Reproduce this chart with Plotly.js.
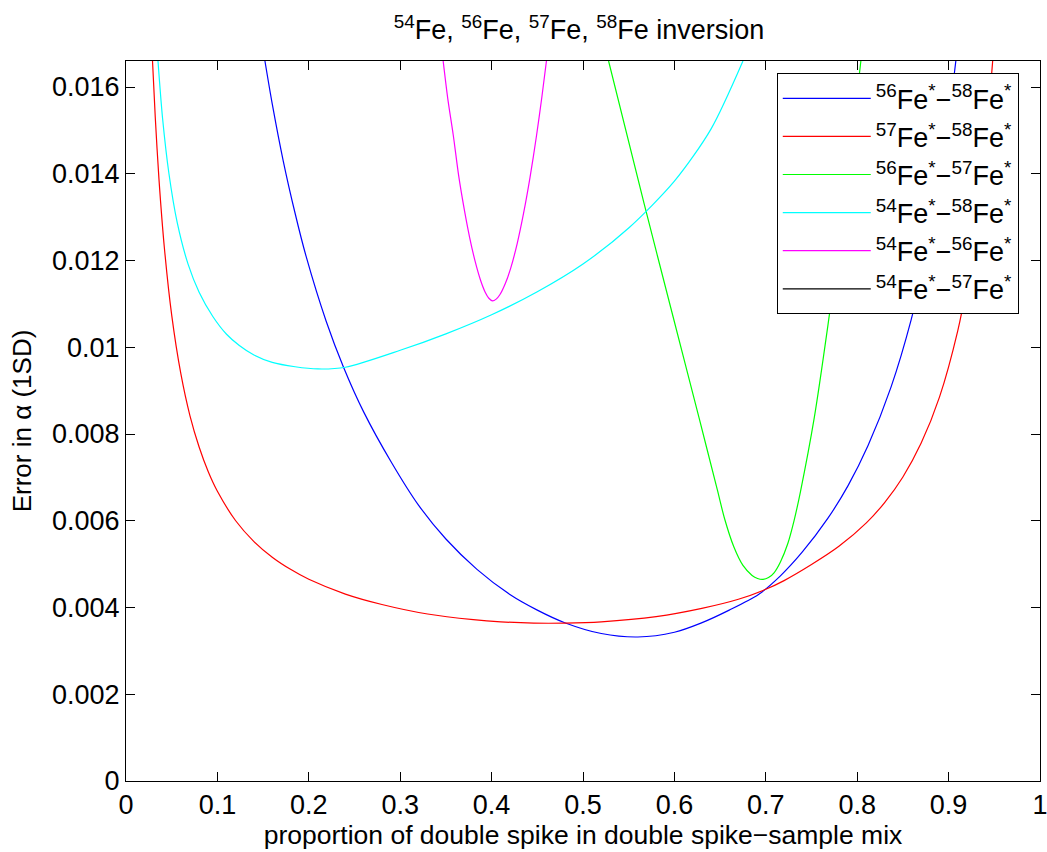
<!DOCTYPE html>
<html>
<head>
<meta charset="utf-8">
<script src="https://cdn.plot.ly/plotly-3.0.1.min.js"></script>
<style>html,body{margin:0;padding:0;background:#fff;}#chart{width:1047px;height:852px;}</style>
</head>
<body>
<div id="chart"></div>
<script>
// Series names
const names = [
  "<sup>56</sup>Fe<sup>*</sup>\u2212<sup>58</sup>Fe<sup>*</sup>",
  "<sup>57</sup>Fe<sup>*</sup>\u2212<sup>58</sup>Fe<sup>*</sup>",
  "<sup>56</sup>Fe<sup>*</sup>\u2212<sup>57</sup>Fe<sup>*</sup>",
  "<sup>54</sup>Fe<sup>*</sup>\u2212<sup>58</sup>Fe<sup>*</sup>",
  "<sup>54</sup>Fe<sup>*</sup>\u2212<sup>56</sup>Fe<sup>*</sup>",
  "<sup>54</sup>Fe<sup>*</sup>\u2212<sup>57</sup>Fe<sup>*</sup>"
];
const colors = ["#0000ff", "#ff0000", "#00ff00", "#00ffff", "#ff00ff", "#000000"];

// 56Fe*-58Fe* (blue)
const blueX = [0.152, 0.160, 0.172, 0.185, 0.197, 0.219, 0.238, 0.260, 0.290, 0.320, 0.350, 0.384, 0.420, 0.450, 0.480, 0.520, 0.560, 0.600, 0.629, 0.660, 0.692, 0.716, 0.740, 0.768, 0.790, 0.812, 0.837, 0.859, 0.875, 0.890, 0.900, 0.910];
const blueY = [0.0166, 0.01561, 0.0143, 0.01309, 0.0121, 0.0106, 0.00954, 0.00851, 0.00736, 0.00636, 0.00558, 0.00488, 0.0043, 0.00394, 0.00365, 0.0034, 0.00332, 0.00343, 0.00364, 0.00394, 0.0043, 0.00473, 0.00528, 0.00606, 0.00681, 0.00774, 0.00908, 0.01063, 0.01209, 0.01382, 0.01525, 0.01697];

// 57Fe*-58Fe* (red)
const redX = [0.029, 0.032, 0.036, 0.042, 0.050, 0.060, 0.070, 0.080, 0.090, 0.100, 0.120, 0.140, 0.160, 0.180, 0.200, 0.240, 0.280, 0.330, 0.380, 0.410, 0.446, 0.480, 0.520, 0.580, 0.630, 0.670, 0.700, 0.720, 0.750, 0.780, 0.810, 0.830, 0.850, 0.870, 0.890, 0.910, 0.920, 0.930, 0.940, 0.948, 0.950];
const redY = [0.0166, 0.01531, 0.0139, 0.01229, 0.01074, 0.00939, 0.00842, 0.0077, 0.00713, 0.00668, 0.0060, 0.00552, 0.00516, 0.00488, 0.00465, 0.00431, 0.00407, 0.00385, 0.00372, 0.00367, 0.00364, 0.00364, 0.00367, 0.00379, 0.00398, 0.00419, 0.00442, 0.00462, 0.00499, 0.00541, 0.00595, 0.00642, 0.00701, 0.00779, 0.00885, 0.01038, 0.01144, 0.01279, 0.01459, 0.01654, 0.01712];

// 56Fe*-57Fe* (green)
const greenX = [0.528, 0.567, 0.598, 0.627, 0.647, 0.655, 0.665, 0.675, 0.685, 0.691, 0.697, 0.703, 0.709, 0.716, 0.724, 0.731, 0.738, 0.753, 0.768, 0.787, 0.804];
const greenY = [0.0166, 0.0133, 0.01075, 0.00837, 0.00671, 0.00604, 0.0054, 0.00497, 0.00474, 0.00467, 0.00465, 0.00469, 0.0048, 0.00505, 0.00547, 0.00601, 0.00668, 0.00837, 0.01051, 0.0135, 0.0166];

// 54Fe*-58Fe* (cyan)
const cyanX = [0.035, 0.040, 0.047, 0.056, 0.068, 0.080, 0.095, 0.110, 0.124, 0.140, 0.160, 0.185, 0.210, 0.240, 0.300, 0.350, 0.400, 0.450, 0.500, 0.550, 0.600, 0.640, 0.675];
const cyanY = [0.0166, 0.01528, 0.0140, 0.01288, 0.01191, 0.01127, 0.01071, 0.0103, 0.01004, 0.00982, 0.00965, 0.00955, 0.0095, 0.00954, 0.00993, 0.01031, 0.01075, 0.01128, 0.01192, 0.01275, 0.01383, 0.01503, 0.0166];

// 54Fe*-56Fe* (magenta)
const magX = [0.347, 0.352, 0.358, 0.364, 0.370, 0.376, 0.382, 0.388, 0.393, 0.397, 0.401, 0.405, 0.409, 0.415, 0.421, 0.428, 0.435, 0.442, 0.449, 0.455, 0.460];
const magY = [0.0166, 0.01574, 0.0149, 0.01395, 0.01319, 0.01253, 0.01198, 0.01154, 0.01127, 0.01113, 0.01107, 0.01111, 0.01121, 0.01147, 0.01183, 0.01239, 0.01309, 0.01391, 0.01486, 0.01577, 0.0166];

// 54Fe*-57Fe* (black) - no point falls inside the visible range
const blackX = [0.5];
const blackY = [null];

const xTicks = [0, 0.1, 0.2, 0.3, 0.4, 0.5, 0.6, 0.7, 0.8, 0.9, 1];
const xTickText = ["0", "0.1", "0.2", "0.3", "0.4", "0.5", "0.6", "0.7", "0.8", "0.9", "1"];
const yTicks = [0, 0.002, 0.004, 0.006, 0.008, 0.01, 0.012, 0.014, 0.016];
const yTickText = ["0", "0.002", "0.004", "0.006", "0.008", "0.01", "0.012", "0.014", "0.016"];

const xs = [blueX, redX, greenX, cyanX, magX, blackX];
const ys = [blueY, redY, greenY, cyanY, magY, blackY];

const traces = xs.map((x, i) => ({
  x: x, y: ys[i], name: names[i], type: "scatter", mode: "lines",
  line: {color: colors[i], width: 1.2, shape: "spline", smoothing: 0.8},
  showlegend: true
}));

const fam = "Liberation Sans, Arial, sans-serif";

const layout = {
  width: 1047, height: 852,
  margin: {l: 126, r: 7, t: 61, b: 71},
  paper_bgcolor: "#fff", plot_bgcolor: "#fff",
  font: {family: fam, size: 26, color: "#000"},
  showlegend: true,
  title: {text: "<sup>54</sup>Fe, <sup>56</sup>Fe, <sup>57</sup>Fe, <sup>58</sup>Fe inversion",
          font: {family: fam, size: 27, color: "#000"},
          x: 0.553, xanchor: "center", y: 0.965, yanchor: "middle", yref: "container"},
  xaxis: {range: [0, 1], tickvals: xTicks, ticktext: xTickText,
          ticks: "inside", ticklen: 9, tickcolor: "#000", tickwidth: 1,
          showline: true, linecolor: "#000", linewidth: 1, mirror: "ticks",
          showgrid: false, zeroline: false, ticklabeloverflow: "allow",
          tickfont: {size: 27},
          title: {text: "proportion of double spike in double spike\u2212sample mix", font: {size: 26.5}, standoff: 6}},
  yaxis: {range: [0, 0.0166], tickvals: yTicks, ticktext: yTickText,
          ticks: "inside", ticklen: 9, tickcolor: "#000", tickwidth: 1,
          showline: true, linecolor: "#000", linewidth: 1, mirror: "ticks",
          showgrid: false, zeroline: false,
          tickfont: {size: 27},
          title: {text: "Error in \u03b1 (1SD)", font: {size: 26}, standoff: 12}},
  legend: {x: 0.712, y: 0.983, xanchor: "left", yanchor: "top",
           bgcolor: "#fff", bordercolor: "#000", borderwidth: 1,
           font: {size: 27}, tracegroupgap: 0, itemwidth: 88}
};

Plotly.newPlot("chart", traces, layout, {displayModeBar: false, staticPlot: true});
</script>
</body>
</html>
